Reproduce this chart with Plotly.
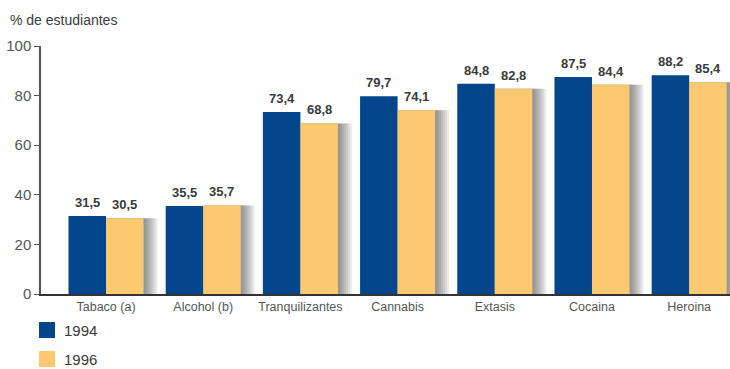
import plotly.graph_objects as go

categories = ["Tabaco (a)", "Alcohol (b)", "Tranquilizantes", "Cannabis", "Extasis", "Cocaina", "Heroina"]
values_1994 = [31.5, 35.5, 73.4, 79.7, 84.8, 87.5, 88.2]
values_1996 = [30.5, 35.7, 68.8, 74.1, 82.8, 84.4, 85.4]
series_names = ["1994", "1996"]
y_ticks = [0, 20, 40, 60, 80, 100]

BLUE = "#03468C"
YELLOW = "#FCC970"
TEXT = "#3a3a3a"
W = 0.386   # width of one bar, in category units
PX = 1 / 97.2  # one pixel, in category units

x_pos = list(range(len(categories)))
fig = go.Figure()

# soft drop shadow to the right of each group, built from stacked translucent layers
for ext in range(14, 0, -2):
    fig.add_trace(go.Bar(
        x=x_pos, y=values_1996, offset=0.0, width=W + ext * PX,
        marker=dict(color="rgba(40,40,40,0.085)", line=dict(width=0)),
        showlegend=False, hoverinfo="skip",
    ))

fig.add_trace(go.Bar(
    x=x_pos, y=values_1994, name=series_names[0], offset=-W, width=W,
    marker=dict(color=BLUE, line=dict(width=0)),
))
fig.add_trace(go.Bar(
    x=x_pos, y=values_1996, name=series_names[1], offset=0.0, width=W,
    marker=dict(color=YELLOW, line=dict(width=0)),
))

annotations = []
for xi, v94, v96 in zip(x_pos, values_1994, values_1996):
    for xc, v in ((xi - W / 2, v94), (xi + W / 2, v96)):
        annotations.append(dict(
            x=xc, y=v, xref="x", yref="y", yanchor="bottom", yshift=4,
            text=f"{v:.1f}".replace(".", ","), showarrow=False,
            font=dict(family="Liberation Sans", size=13, color=TEXT, weight="bold"),
        ))

annotations.append(dict(
    x=(8 - 41) / 689, y=1, xref="paper", yref="paper",
    xanchor="left", yanchor="bottom", yshift=16,
    text="% de estudiantes", showarrow=False,
    font=dict(family="Liberation Sans", size=14, color=TEXT),
))

# legend drawn as swatches with labels below the axis
plot_h = 369 - 46 - 75
shapes = []
for k, (name, col) in enumerate(zip(series_names, [BLUE, YELLOW])):
    top = 322 + 29 * k
    y0 = (294 - (top + 16)) / plot_h
    y1 = (294 - top) / plot_h
    shapes.append(dict(type="rect", xref="paper", yref="paper",
                       x0=(39 - 41) / 689, x1=(55 - 41) / 689, y0=y0, y1=y1,
                       fillcolor=col, line=dict(width=0)))
    annotations.append(dict(
        x=(62 - 41) / 689, y=(y0 + y1) / 2, xref="paper", yref="paper",
        xanchor="left", yanchor="middle", text=name, showarrow=False,
        font=dict(family="Liberation Sans", size=15, color=TEXT),
    ))

fig.update_layout(
    width=730, height=369,
    margin=dict(l=41, r=0, t=46, b=75),
    paper_bgcolor="white", plot_bgcolor="white",
    barmode="overlay", showlegend=False,
    annotations=annotations, shapes=shapes,
    font=dict(family="Liberation Sans", color="#555"),
)
fig.update_xaxes(
    range=[-0.669, 6.42], tickvals=x_pos, ticktext=categories,
    showline=True, linecolor="#333", linewidth=1.5, ticks="",
    showgrid=False, zeroline=False,
    tickfont=dict(size=12.5, color="#555"),
)
fig.update_yaxes(
    range=[0, 100], tickvals=y_ticks, showline=True, linecolor="#555", linewidth=1.5,
    ticks="outside", ticklen=5, tickcolor="#555", showgrid=False, zeroline=False,
    tickfont=dict(size=15, color="#555"),
)

fig.write_html("out.html")
